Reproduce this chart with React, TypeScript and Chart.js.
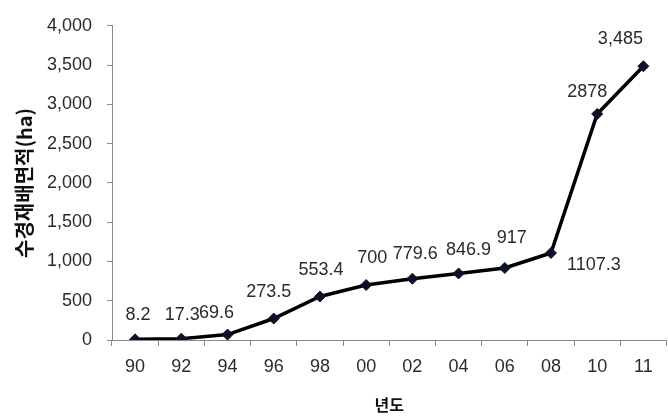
import React, { useEffect, useRef } from "react";
import { Chart, registerables } from "chart.js";

Chart.register(...registerables);

const years = ["90", "92", "94", "96", "98", "00", "02", "04", "06", "08", "10", "11"];
const areaValues = [8.2, 17.3, 69.6, 273.5, 553.4, 700, 779.6, 846.9, 917, 1107.3, 2878, 3485];
const pointLabels = ["8.2", "17.3", "69.6", "273.5", "553.4", "700", "779.6", "846.9", "917", "1107.3", "2878", "3,485"];
const yTickValues = [0, 500, 1000, 1500, 2000, 2500, 3000, 3500, 4000];
const yTitle = "수경재배면적(ha)";
const xTitle = "년도";

// label placement relative to each point (style only)
const labelShift: [number, number][] = [
  [3, -24], [1, -24], [-11, -22], [-5, -26], [1, -26], [6, -27],
  [3, -25], [10, -23], [7, -30], [43, 12], [-10, -22], [-23, -27],
];

const FONT = "'Liberation Sans', Arial, sans-serif";

const labelPlugin = {
  id: "pointLabels",
  afterDatasetsDraw(chart: any) {
    const meta = chart.getDatasetMeta(0);
    const ctx = chart.ctx;
    ctx.save();
    ctx.font = `18px ${FONT}`;
    ctx.fillStyle = "#2a2a2a";
    ctx.textAlign = "center";
    ctx.textBaseline = "middle";
    meta.data.forEach((pt: any, i: number) => {
      const [dx, dy] = labelShift[i] || [0, -24];
      ctx.fillText(pointLabels[i], pt.x + dx, pt.y + dy);
    });
    ctx.restore();
  },
};

export default function App() {
  const ref = useRef<HTMLCanvasElement>(null);
  useEffect(() => {
    if (!ref.current) return;
    const chart = new Chart(ref.current, {
      type: "line",
      data: {
        labels: years,
        datasets: [
          {
            data: areaValues,
            borderColor: "#000000",
            borderWidth: 3.5,
            pointStyle: "rectRot",
            pointRadius: 5.5,
            pointBackgroundColor: "#0d1326",
            pointBorderColor: "#0d1326",
            pointBorderWidth: 1,
            tension: 0,
          },
        ],
      },
      options: {
        responsive: false,
        animation: false,
        devicePixelRatio: 1,
        layout: { padding: { top: 20, right: 0, bottom: 0, left: 0 } },
        plugins: { legend: { display: false }, tooltip: { enabled: false } },
        scales: {
          x: {
            offset: true,
            grid: {
              offset: true,
              drawOnChartArea: false,
              drawTicks: true,
              tickLength: 6,
              color: "#8a8a8a",
            },
            border: { color: "#8a8a8a", width: 1 },
            ticks: {
              font: { family: FONT, size: 18 },
              color: "#2a2a2a",
              padding: 10,
              maxRotation: 0,
              autoSkip: false,
            },
            title: {
              display: true,
              text: xTitle,
              font: { family: "'Noto Sans CJK KR', sans-serif", size: 16, weight: "bold" },
              color: "#111111",
              padding: { top: 0, bottom: 5 },
            },
            afterFit(scale: any) {
              scale.height = 80;
            },
          },
          y: {
            min: 0,
            max: 4000,
            afterBuildTicks(scale: any) {
              scale.ticks = yTickValues.map((v) => ({ value: v }));
            },
            grid: {
              drawOnChartArea: false,
              drawTicks: true,
              tickLength: 5,
              color: "#8a8a8a",
            },
            border: { color: "#8a8a8a", width: 1 },
            ticks: {
              font: { family: FONT, size: 18 },
              color: "#2a2a2a",
              padding: 15,
              callback: (v: any) => Number(v).toLocaleString("en-US"),
            },
            title: {
              display: true,
              text: yTitle,
              font: { family: "'Noto Sans CJK KR', sans-serif", size: 20, weight: "bold" },
              color: "#111111",
              padding: { top: 12, bottom: 0 },
            },
            afterFit(scale: any) {
              scale.width = 112;
            },
          },
        },
      },
      plugins: [labelPlugin],
    });
    return () => chart.destroy();
  }, []);

  return (
    <div
      style={{
        position: "absolute",
        left: 0,
        top: 0,
        width: 668,
        height: 420,
        overflow: "hidden",
        background: "#ffffff",
      }}
    >
      <canvas ref={ref} width={673} height={420} style={{ display: "block" }} />
    </div>
  );
}
